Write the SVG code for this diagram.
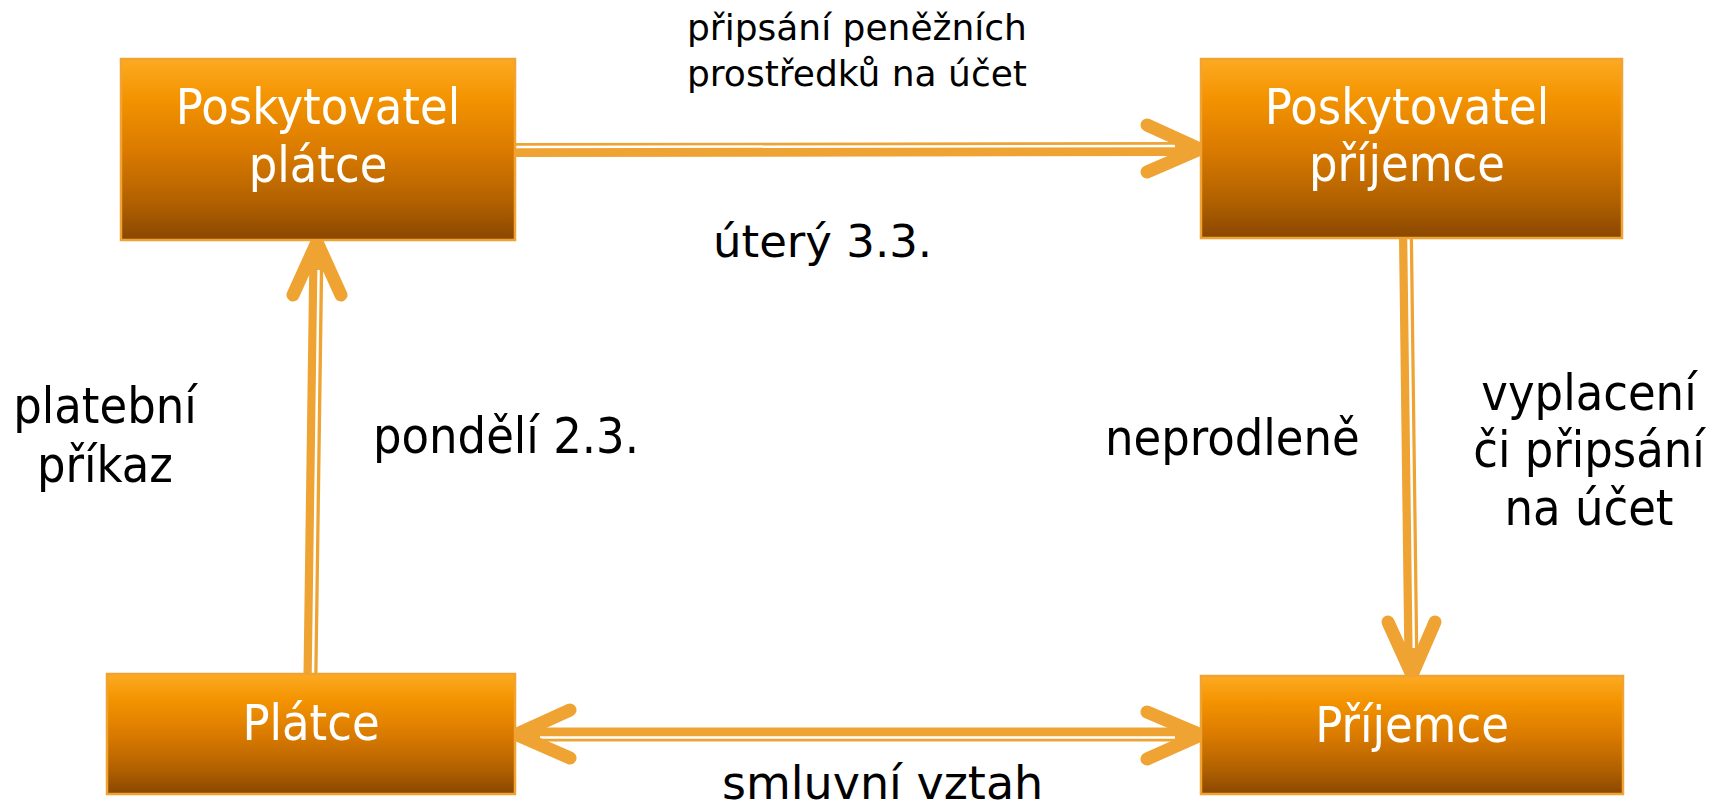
<svg xmlns="http://www.w3.org/2000/svg" width="1727" height="806" viewBox="0 0 1727 806">
<defs>
<linearGradient id="boxg" x1="0" y1="0" x2="0" y2="1">
<stop offset="0" stop-color="#FDAA22"/>
<stop offset="0.22" stop-color="#F39300"/>
<stop offset="0.5" stop-color="#DB7B00"/>
<stop offset="0.8" stop-color="#B06000"/>
<stop offset="1" stop-color="#8A4700"/>
</linearGradient>
</defs>
<style>
.box{fill:url(#boxg);stroke:#F0A232;stroke-width:2.5}
.bt{font-family:"DejaVu Sans Condensed","DejaVu Sans",sans-serif;font-size:50px;fill:#FFFFFF;text-anchor:middle}
.lc{font-family:"DejaVu Sans Condensed","DejaVu Sans",sans-serif;font-size:50px;fill:#000000}
.lr{font-family:"DejaVu Sans",sans-serif;fill:#000000}
.shaft{stroke:#EFA332;stroke-width:14;fill:none}
.inner{stroke:#FFFFFF;stroke-width:2.5;fill:none}
.head{stroke:#EFA332;stroke-width:13;fill:none;stroke-linecap:round;stroke-linejoin:miter;stroke-miterlimit:10}
</style>
<rect width="1727" height="806" fill="#FFFFFF"/>
<g id="connectors">
<g id="c-top">
<line class="shaft" x1="515" y1="150" x2="1192" y2="149"/>
<line class="inner" x1="515" y1="147" x2="1175" y2="146"/>
<polyline class="head" points="1147,125 1200,149 1147,172"/>
</g>
<g id="c-left">
<line class="shaft" x1="310.5" y1="673" x2="316.5" y2="250"/>
<line class="inner" x1="313" y1="673" x2="318.6" y2="270"/>
<polyline class="head" points="293,295 317,242 341,295"/>
</g>
<g id="c-right">
<line class="shaft" x1="1406" y1="238" x2="1411.5" y2="666"/>
<line class="inner" x1="1408.5" y1="238" x2="1413.8" y2="648"/>
<polyline class="head" points="1388,622 1412,675 1435,622"/>
</g>
<g id="c-bottom">
<line class="shaft" x1="524" y1="734.5" x2="1193" y2="734.5"/>
<line class="inner" x1="540" y1="737.5" x2="1175" y2="737.5"/>
<polyline class="head" points="570,710 516,734.5 570,758"/>
<polyline class="head" points="1147,712 1201,735 1147,759"/>
</g>
</g>
<g id="n-poskytovatel-platce">
<rect class="box" x="121" y="59" width="394" height="181"/>
<text class="bt" x="318" y="124">Poskytovatel</text>
<text class="bt" x="318" y="182">plátce</text>
</g>
<g id="n-poskytovatel-prijemce">
<rect class="box" x="1201" y="59" width="421" height="179"/>
<text class="bt" x="1407" y="124">Poskytovatel</text>
<text class="bt" x="1407" y="181">příjemce</text>
</g>
<g id="n-platce">
<rect class="box" x="107" y="674" width="408" height="120"/>
<text class="bt" x="311" y="740">Plátce</text>
</g>
<g id="n-prijemce">
<rect class="box" x="1201" y="676" width="422" height="118"/>
<text class="bt" x="1412" y="742">Příjemce</text>
</g>
<g id="labels">
<text class="lr" x="687" y="40" font-size="36">připsání peněžních</text>
<text class="lr" x="687" y="86" font-size="36">prostředků na účet</text>
<text class="lr" x="713" y="257" font-size="45">úterý 3.3.</text>
<text class="lc" x="105" y="423" text-anchor="middle">platební</text>
<text class="lc" x="105" y="482" text-anchor="middle">příkaz</text>
<text class="lc" x="373" y="453">pondělí 2.3.</text>
<text class="lc" x="1105" y="455">neprodleně</text>
<text class="lc" x="1589" y="410" text-anchor="middle">vyplacení</text>
<text class="lc" x="1589" y="467" text-anchor="middle">či připsání</text>
<text class="lc" x="1589" y="525" text-anchor="middle">na účet</text>
<text class="lr" x="722" y="799" font-size="46">smluvní vztah</text>
</g>
</svg>
